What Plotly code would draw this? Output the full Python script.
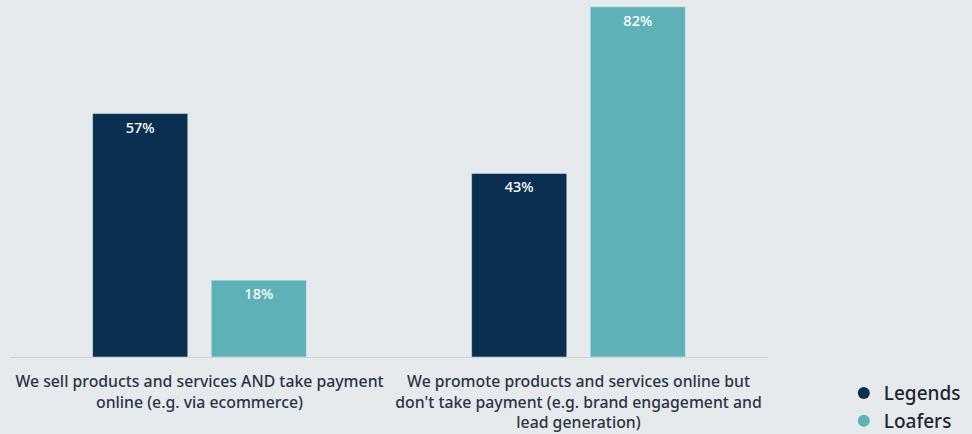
import plotly.graph_objects as go

categories = [
    "We sell products and services AND take payment<br>online (e.g. via ecommerce)",
    "We promote products and services online but<br>don't take payment (e.g. brand engagement and<br>lead generation)",
]
series_names = ["Legends", "Loafers"]
legends_values = [57, 43]
loafers_values = [18, 82]

BG = "#e6eaed"
TEXT = "#2b3445"
FONT = "Noto Sans"
COLORS = ["#0b2f50", "#5fb1b8"]

fig = go.Figure()
for name, vals, col in zip(series_names, [legends_values, loafers_values], COLORS):
    fig.add_trace(go.Bar(
        name=name, x=categories, y=vals,
        marker=dict(color=col),
        text=[f"{v}%" for v in vals],
        textposition="inside", insidetextanchor="end",
        textfont=dict(color="white", size=14.5, family=FONT, weight=500),
        hoverinfo="skip", showlegend=False,
    ))
# round legend markers
for name, col in zip(series_names, COLORS):
    fig.add_trace(go.Scatter(
        name=name, x=[None], y=[None], mode="markers",
        marker=dict(color=col, size=10, symbol="circle"),
        showlegend=True, hoverinfo="skip", legendgroup=name,
    ))

fig.update_layout(
    width=972, height=434,
    margin=dict(l=10, r=204, t=0, b=77, autoexpand=False),
    paper_bgcolor=BG, plot_bgcolor=BG,
    barmode="group", bargap=0.374, bargroupgap=0.198,
    font=dict(family=FONT, color=TEXT),
    showlegend=True,
    legend=dict(
        x=1.1, y=-0.048, xanchor="left", yanchor="top",
        font=dict(size=19, color="#1e2430", family=FONT, weight=500),
        itemsizing="constant", bgcolor="rgba(0,0,0,0)",
        itemwidth=30, tracegroupgap=0,
    ),
    uniformtext=dict(minsize=14, mode="show"),
)
fig.update_xaxes(
    showline=True, linecolor="#cfd4d9", linewidth=1,
    ticks="outside", ticklen=10, tickcolor="rgba(0,0,0,0)",
    tickfont=dict(size=15.8, color=TEXT, family=FONT, weight=500),
    showgrid=False, automargin=False,
)
fig.update_yaxes(range=[0, 83.6], visible=False, showgrid=False, automargin=False)

fig.write_html("out.html")
